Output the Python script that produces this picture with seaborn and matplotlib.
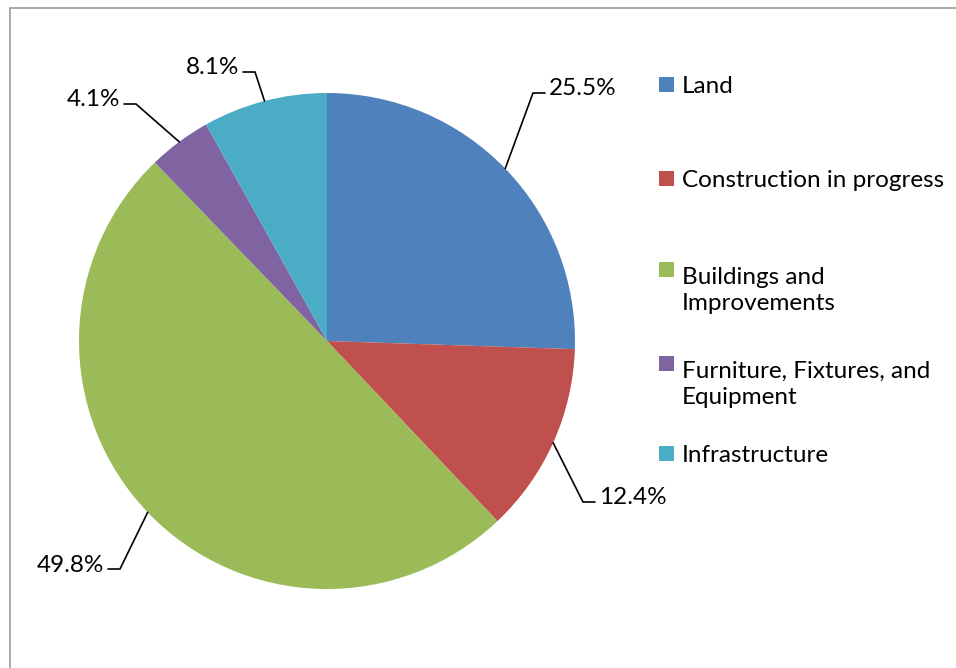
import numpy as np
import matplotlib
matplotlib.use("Agg")
import matplotlib.pyplot as plt
from matplotlib.patches import Rectangle
import seaborn as sns

# data
categories = ["Land", "Construction in progress", "Buildings and\nImprovements",
              "Furniture, Fixtures, and\nEquipment", "Infrastructure"]
shares = [25.5, 12.4, 49.8, 4.1, 8.1]
slice_colors = ["#4F81BD", "#C0504D", "#9BBB59", "#8064A2", "#4BACC6"]

sns.set_theme(style="white")
plt.rcParams['font.family'] = ['Lato', 'DejaVu Sans']

# figure layout in pixels (pie centre and radius)
W, H = 956, 668
cx, cy, R = 327, 341, 248
FS = 17.5
LINE_PX = 32


def px(x, y):
    return (x - cx) / R, (cy - y) / R


fig = plt.figure(figsize=(W / 100, H / 100), dpi=100)
ax = fig.add_axes([0, 0, 1, 1])

palette = sns.color_palette(slice_colors)
wedges, _ = ax.pie(shares, colors=palette, startangle=90, counterclock=False,
                   radius=1, wedgeprops=dict(linewidth=0))

ax.set_xlim(-cx / R, (W - cx) / R)
ax.set_ylim((cy - H) / R, cy / R)
ax.set_aspect('equal')
ax.axis('off')

# leader lines + percentage labels (bend points in pixels)
bends = [(533, 93), (583, 502), (120, 569), (136, 104), (255, 72)]
for w, v, b in zip(wedges, shares, bends):
    mid = np.deg2rad((w.theta1 + w.theta2) / 2)
    ex, ey = np.cos(mid), np.sin(mid)
    bx, by = px(*b)
    side = 1 if ex > 0 else -1
    sx = bx + side * 12 / R
    ax.plot([ex, bx, sx], [ey, by, by], color='black', lw=1.2,
            solid_joinstyle='miter')
    ax.text(sx + side * 4 / R, by - 2.5 / R, f"{v:.1f}%", fontsize=FS,
            ha='left' if side > 0 else 'right', va='baseline', color='black')

# legend, drawn entry by entry to keep Excel spacing
baselines = [93, 187, 278, 372, 462]
for lab, col, yb in zip(categories, palette, baselines):
    ax.add_patch(Rectangle(px(659, yb - 0.5), 15 / R, 15 / R, color=col,
                           lw=0))
    # baseline alignment goes by the last line of a multi-line label
    last = yb + LINE_PX * lab.count('\n')
    tx, ty = px(682, last)
    ax.text(tx, ty, lab, fontsize=FS, ha='left', va='baseline',
            color='black', linespacing=LINE_PX / (FS * 100 / 72))

# chart area border
fig.add_artist(Rectangle((10 / W, -0.1), 1.2, 1.1 - 8 / H,
                         transform=fig.transFigure, fill=False,
                         edgecolor='#9a9a9a', lw=1.2))

fig.savefig("out.png", dpi=100)
